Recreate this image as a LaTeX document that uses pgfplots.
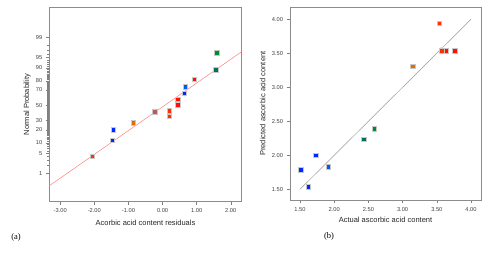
\documentclass[border=0pt]{standalone}
\usepackage{fontspec}
\setmainfont{Liberation Sans}
\newfontfamily\serifff{Liberation Serif}
\usepackage{pgfplots}
\pgfplotsset{compat=1.18}
\definecolor{pRed}{HTML}{FF1000}
\definecolor{pRedO}{HTML}{FF3000}
\definecolor{pOrange}{HTML}{DC7000}
\definecolor{pBrown}{HTML}{C05858}
\definecolor{pBlue}{HTML}{0028FF}
\definecolor{pBlueL}{HTML}{0058F0}
\definecolor{pTeal}{HTML}{007058}
\definecolor{pGreen}{HTML}{008A30}
\pgfplotsset{
  myax/.style={
    scale only axis,
    axis line style={draw=black!45, line width=0.5pt},
    tick style={draw=black!50, line width=0.4pt},
    tick align=outside,
    xtick pos=bottom, ytick pos=left,
    major tick length=3.5pt, minor tick length=2.2pt,
    tick label style={font=\fontsize{5.7}{6.5}\selectfont, text=black!75},
    label style={font=\fontsize{7.5}{9}\selectfont, text=black!85},
    /pgf/number format/assume math mode=true,
    clip=false,
  },
  sq/.style={only marks, mark=square*, mark size=2.25pt,
    mark options={draw=black!22, line width=0.4pt, fill=#1}},
}
\begin{document}
\begin{tikzpicture}
\useasboundingbox (0pt,0pt) rectangle (500pt,253pt);
% ---------- (a) ----------
\begin{axis}[myax,
  at={(49.3pt,51.3pt)}, anchor=south west,
  width=192.4pt, height=194.4pt,
  xmin=-3.32, xmax=2.32, ymin=-3.295, ymax=3.352,
  xtick={-3,-2,-1,0,1,2},
  xticklabels={-3.00,-2.00,-1.00,0.00,1.00,2.00},
  ytick={-2.3263,-1.6449,-1.2816,-0.8416,-0.5244,0,0.5244,0.8416,1.2816,1.6449,2.3263},
  yticklabels={1,5,10,20,30,50,70,80,90,95,99},
  minor ytick={-2.0537,-1.8808,-1.7507,-1.5548,-1.4758,-1.4051,-1.3408,
    -1.2265,-1.1750,-1.1264,-1.0803,-1.0364,-0.9945,-0.9542,-0.9154,-0.8779,
    -0.8064,-0.7722,-0.7388,-0.7063,-0.6745,-0.6433,-0.6128,-0.5828,-0.5534,
    -0.4959,-0.4677,-0.4399,-0.4125,-0.3853,-0.3585,-0.3319,-0.3055,-0.2793,-0.2533,
    -0.2275,-0.2019,-0.1764,-0.1510,-0.1257,-0.1004,-0.0753,-0.0502,-0.0251,
    0.0251,0.0502,0.0753,0.1004,0.1257,0.1510,0.1764,0.2019,0.2275,
    0.2533,0.2793,0.3055,0.3319,0.3585,0.3853,0.4125,0.4399,0.4677,0.4959,
    0.5534,0.5828,0.6128,0.6433,0.6745,0.7063,0.7388,0.7722,0.8064,
    0.8779,0.9154,0.9542,0.9945,1.0364,1.0803,1.1264,1.1750,1.2265,
    1.3408,1.4051,1.4758,1.5548,1.7507,1.8808,2.0537},
  minor tick style={draw=black!50, line width=0.45pt},
  xlabel={Acorbic acid content residuals},
  ylabel={Normal Probability},
  xlabel style={at={(axis description cs:0.5,0)}, anchor=north, yshift=-14.5pt},
  ylabel style={at={(axis description cs:0,0.5)}, anchor=south, yshift=15pt},
]
\addplot[color=red!50, line width=0.5pt] coordinates {(-3.32,-2.75) (2.32,1.836)};
\addplot[sq=pRedO] coordinates {(-2.06,-1.745) (0.193,-0.376) (0.193,-0.185)};
\addplot[sq=pRed] coordinates {(0.44,0.021) (0.44,0.216) (0.926,0.889)};
\addplot[sq=pBlue] coordinates {(-1.48,-1.19) (-1.45,-0.84) (0.635,0.421)};
\addplot[sq=pBlueL] coordinates {(0.665,0.636)};
\addplot[sq=pOrange] coordinates {(-0.86,-0.595)};
\addplot[sq=pBrown] coordinates {(-0.235,-0.219)};
\addplot[sq=pTeal] coordinates {(1.561,1.218)};
\addplot[sq=pGreen] coordinates {(1.59,1.80)};
\end{axis}
% ---------- (b) ----------
\begin{axis}[myax,
  at={(290pt,53pt)}, anchor=south west,
  width=191pt, height=192.7pt,
  xmin=1.354, xmax=4.146, ymin=1.343, ymax=4.176,
  xtick={1.5,2,2.5,3,3.5,4},
  xticklabels={1.50,2.00,2.50,3.00,3.50,4.00},
  ytick={1.5,2,2.5,3,3.5,4},
  yticklabels={1.50,2.00,2.50,3.00,3.50,4.00},
  xlabel={Actual ascorbic acid content},
  ylabel={Predicted ascorbic acid content},
  xlabel style={at={(axis description cs:0.5,0)}, anchor=north, yshift=-14pt},
  ylabel style={at={(axis description cs:0,0.5)}, anchor=south, yshift=21pt},
]
\addplot[color=black!40, line width=0.5pt] coordinates {(1.5,1.5) (4,4)};
\addplot[sq=pBlue] coordinates {(1.51,1.79) (1.62,1.54) (1.73,2.005)};
\addplot[sq=pBlueL] coordinates {(1.91,1.83)};
\addplot[sq=pTeal] coordinates {(2.43,2.235)};
\addplot[sq=pGreen] coordinates {(2.585,2.39)};
\addplot[sq=pOrange] coordinates {(3.15,3.31)};
\addplot[sq=pRedO] coordinates {(3.537,3.94) (3.571,3.535)};
\addplot[sq=pRed] coordinates {(3.634,3.535) (3.762,3.535)};
\node[anchor=east, inner sep=0pt, font=\bfseries\fontsize{6}{7}\selectfont] at (axis cs:3.59,3.535) {2};
\end{axis}
\node[font=\serifff\fontsize{8.5}{10}\selectfont] at (16pt,16pt) {(a)};
\node[font=\serifff\fontsize{8.5}{10}\selectfont] at (329pt,17pt) {(b)};
\end{tikzpicture}
\end{document}
